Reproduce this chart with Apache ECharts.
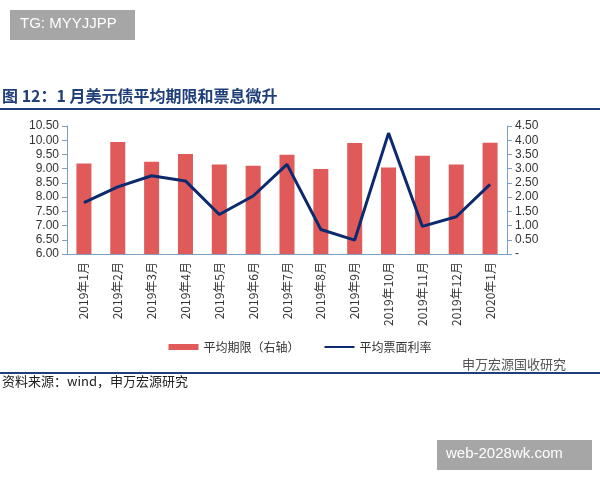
<!DOCTYPE html><html><head><meta charset="utf-8"><script src="https://cdn.jsdelivr.net/npm/echarts@6/dist/echarts.min.js"></script></head><body style="margin:0"><div id="c" style="width:600px;height:480px"></div><script>
const categories=['2019年1月','2019年2月','2019年3月','2019年4月','2019年5月','2019年6月','2019年7月','2019年8月','2019年9月','2019年10月','2019年11月','2019年12月','2020年1月'];
const tenor=[9.18,9.94,9.24,9.52,9.15,9.10,9.49,8.99,9.90,9.04,9.45,9.15,9.91];
const coupon=[1.81,2.36,2.75,2.57,1.39,2.04,3.15,0.86,0.49,4.25,0.97,1.31,2.45];
const F='"Noto Sans CJK SC",sans-serif';
const ax={color:'#333',fontSize:12,fontFamily:'Arial'};
const c=echarts.init(document.getElementById('c'));
c.setOption({animation:false,
graphic:[
{type:'rect',shape:{x:10,y:10,width:125,height:30},style:{fill:'#a6a6a6'}},
{type:'text',left:20,top:16,style:{text:'TG: MYYJJPP',fill:'#fff',font:'15px Arial'}},
{type:'text',left:2,top:88,style:{text:'图 12：1 月美元债平均期限和票息微升',fill:'#1f3f7a',font:'bold 16px '+F}},
{type:'rect',shape:{x:0,y:108,width:600,height:2},style:{fill:'#1f3f7a'}},
{type:'rect',shape:{x:0,y:372,width:600,height:2},style:{fill:'#1f3f7a'}},
{type:'text',left:462,top:358,style:{text:'申万宏源国收研究',fill:'#555',font:'13px '+F}},
{type:'text',left:2,top:375,style:{text:'资料来源：wind，申万宏源研究',fill:'#222',font:'13px '+F}},
{type:'rect',shape:{x:437,y:440,width:155,height:30},style:{fill:'#a6a6a6'}},
{type:'text',left:446,top:446,style:{text:'web-2028wk.com',fill:'#fff',font:'15px Arial'}}
],
legend:{bottom:122,left:'center',itemGap:25,itemWidth:30,itemHeight:6,textStyle:{fontFamily:F,fontSize:12,color:'#333'},data:[{name:'平均期限（右轴）',icon:'rect'},{name:'平均票面利率',icon:'path://M0,2L30,2L30,4L0,4Z'}]},
grid:{left:67,right:93,top:126,bottom:226},
xAxis:{type:'category',data:categories,axisLine:{lineStyle:{color:'#7f9fbf'}},axisTick:{lineStyle:{color:'#7f9fbf'}},axisLabel:{rotate:90,color:'#333',fontSize:12,fontFamily:F,interval:0}},
yAxis:[{type:'value',min:6,max:10.5,interval:0.5,axisLine:{show:true,lineStyle:{color:'#7f9fbf'}},axisTick:{show:true},splitLine:{show:false},axisLabel:Object.assign({formatter:v=>v.toFixed(2)},ax)},
{type:'value',min:0,max:4.5,interval:0.5,axisLine:{show:true,lineStyle:{color:'#7f9fbf'}},axisTick:{show:true},splitLine:{show:false},axisLabel:Object.assign({formatter:v=>v===0?'-':v.toFixed(2)},ax)}],
series:[{name:'平均期限（右轴）',type:'bar',data:tenor,barWidth:15,itemStyle:{color:'#e05a5a'}},
{name:'平均票面利率',type:'line',yAxisIndex:1,data:coupon,symbol:'none',lineStyle:{color:'#0d2a6e',width:3},itemStyle:{color:'#0d2a6e'}}]
});
</script></body></html>
